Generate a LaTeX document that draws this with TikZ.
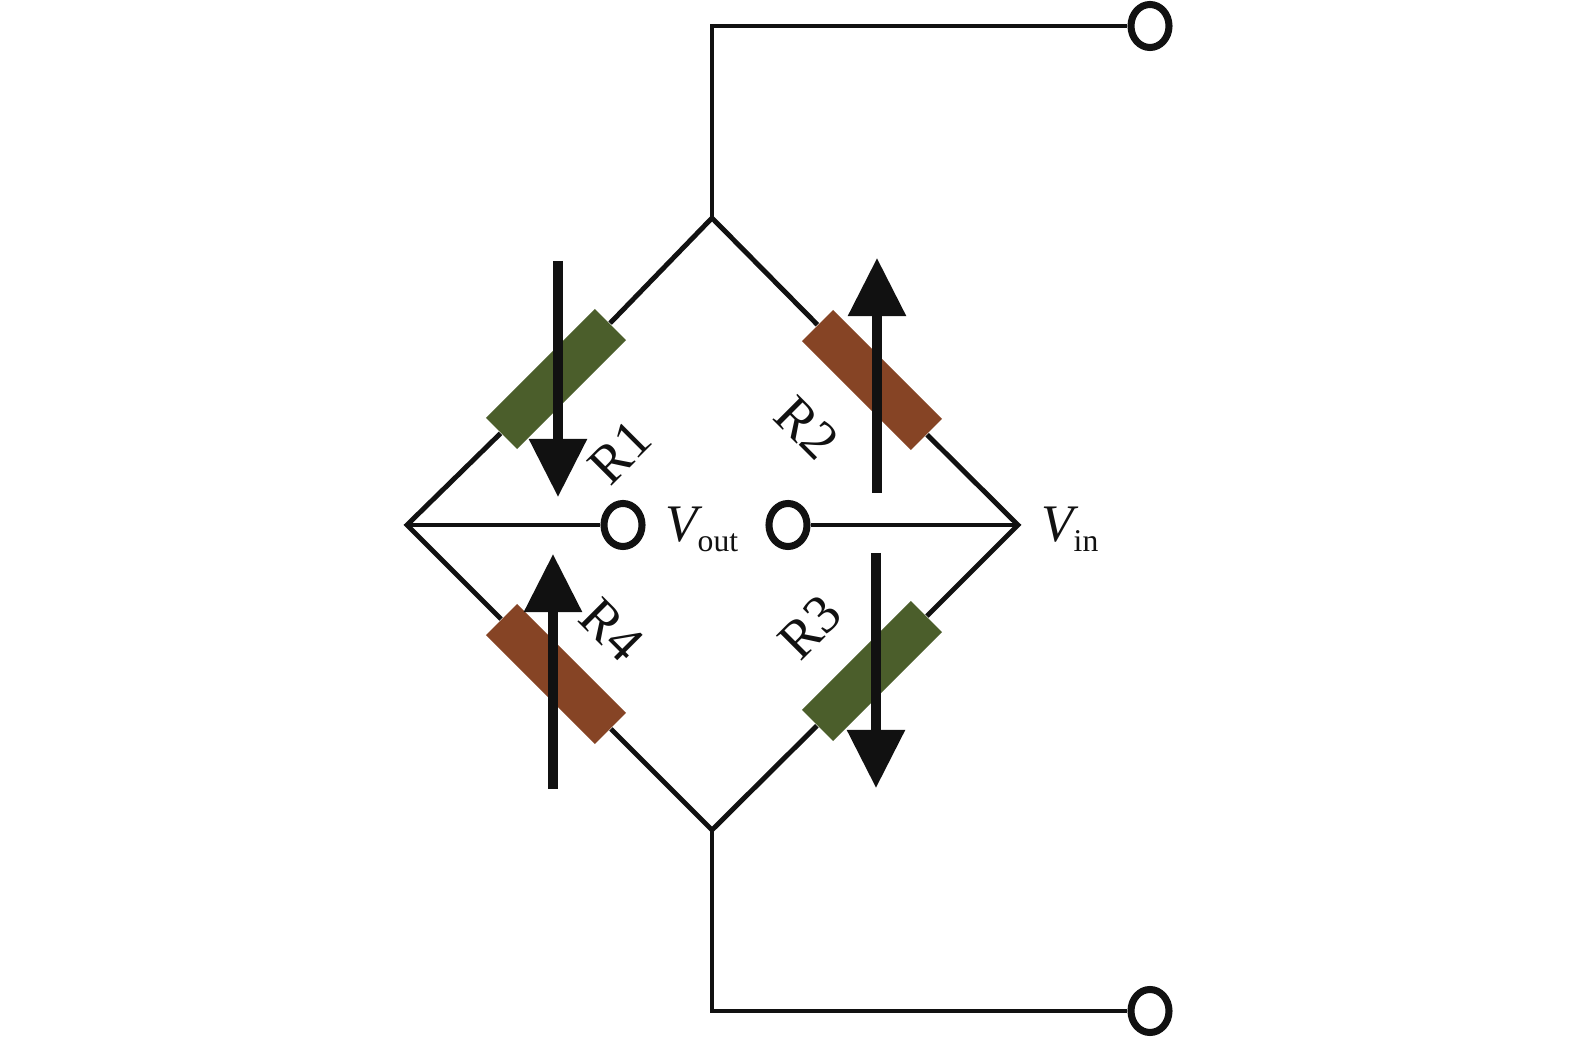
\documentclass[tikz,border=0pt]{standalone}
\usepackage{fontspec}
\setmainfont{Liberation Serif}
\usepackage{tikz}
\usetikzlibrary{arrows.meta, shapes.geometric}

\definecolor{wire}{HTML}{111111}
\definecolor{gauge green}{HTML}{4B5E2B}
\definecolor{gauge brown}{HTML}{864425}

\newcommand{\rlabel}{\fontsize{15.5}{15.5}\selectfont}
\newcommand{\vlabel}[1]{\fontsize{15}{15}\selectfont\textit{V}\kern-1.5pt\raisebox{-2.8pt}{\fontsize{9}{9}\selectfont #1}}

\tikzset{
	wire/.style={draw=wire, line width=1.4pt},
	terminal/.style={ellipse, draw=wire, fill=white, line width=2pt, inner sep=0pt, minimum width=0.38cm, minimum height=0.43cm},
	gauge/.style={rectangle, inner sep=0pt, minimum width=1.54cm, minimum height=0.44cm},
	strain/.style={draw=wire, line width=2.6pt, -{Triangle[length=0.58cm, width=0.56cm]}},
}

\begin{document}
\begin{tikzpicture}[x=0.01cm, y=-0.01cm, text=wire]
	\useasboundingbox (0,0) rectangle (1575,1037);
	
	% bridge corners
	\coordinate (top) at (712,218);
	\coordinate (left) at (407,525);
	\coordinate (right) at (1018,525);
	\coordinate (bottom) at (712,830);
	\coordinate (top bend) at (712,26);
	\coordinate (bottom bend) at (712,1011);
	
	% gauges
	\node[gauge, fill=gauge green, rotate=45] (R1box) at (556,379) {};
	\node[gauge, fill=gauge brown, rotate=-45] (R2box) at (872,380) {};
	\node[gauge, fill=gauge green, rotate=45] (R3box) at (872,671) {};
	\node[gauge, fill=gauge brown, rotate=-45] (R4box) at (556,674) {};
	
	% terminals
	\node[terminal] (in top) at (1150,26) {};
	\node[terminal] (in bottom) at (1150,1011) {};
	\node[terminal] (out left) at (623,525) {};
	\node[terminal] (out right) at (788,525) {};
	
	\draw[wire] (R1box) -- (top) -- (R2box);
	\draw[wire] (R1box) -- (left) -- (R4box);
	\draw[wire] (R2box) -- (right) -- (R3box);
	\draw[wire] (R4box) -- (bottom) -- (R3box);
	\draw[wire] (bottom) -- (bottom bend) -- (in bottom);
	\draw[wire] (top) -- (top bend) -- (in top);
	\draw[wire] (left) -- (out left);
	\draw[wire] (right) -- (out right);
	
	% strain arrows
	\coordinate (a1) at (558,261);
	\coordinate (b1) at (558,497);
	\coordinate (a2) at (877,493);
	\coordinate (b2) at (877,258);
	\coordinate (a3) at (876,553);
	\coordinate (b3) at (876,788);
	\coordinate (a4) at (553,789);
	\coordinate (b4) at (553,554);
	\foreach \i in {1,...,4}
		\draw[strain] (a\i) -- (b\i);
	
	% labels
	\node[rotate=45, font=\rlabel] (R1) at (620,452) {R1};
	\node[rotate=-45, font=\rlabel] (R2) at (807,428) {R2};
	\node[rotate=45, font=\rlabel] (R3) at (810,627) {R3};
	\node[rotate=-45, font=\rlabel] (R4) at (612,630) {R4};
	\node[anchor=base west, inner sep=0pt] (Vout) at (665,542) {\vlabel{out}};
	\node[anchor=base west, inner sep=0pt] (Vin) at (1041,542) {\vlabel{in}};
	
\end{tikzpicture}
\end{document}
